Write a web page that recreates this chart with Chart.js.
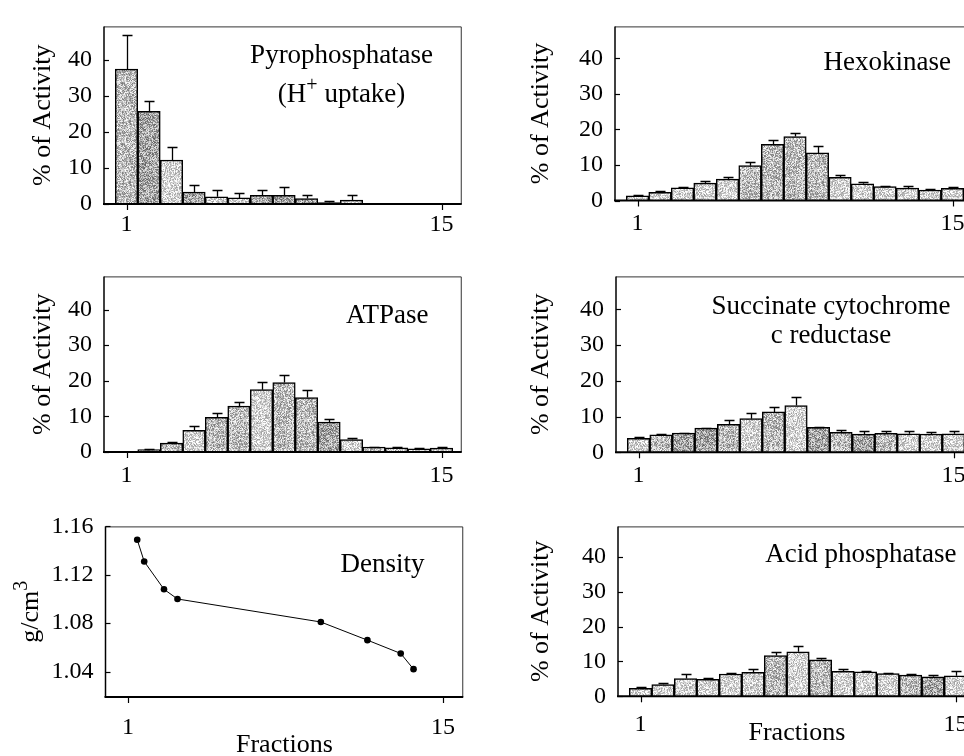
<!DOCTYPE html>
<html><head><meta charset="utf-8">
<script src="https://cdn.jsdelivr.net/npm/chart.js@4.4.0/dist/chart.umd.min.js"></script>
<style>
html,body{margin:0;padding:0;background:#fff;overflow:hidden;width:964px;height:756px;position:relative;}
canvas{position:absolute;}
</style></head><body>
<canvas id="pyro"></canvas>
<canvas id="hexo"></canvas>
<canvas id="atp"></canvas>
<canvas id="succ"></canvas>
<canvas id="dens"></canvas>
<canvas id="acid"></canvas>
<script>
// ---------------- DATA ----------------
const fractions = [1,2,3,4,5,6,7,8,9,10,11,12,13,14,15];
const fractionTicks = [1, 15];
const activityTicks = [0, 10, 20, 30, 40];
const densityTicks = [1.04, 1.08, 1.12, 1.16];

const pyroValues = [37.5, 25.8, 12.2, 3.3, 2.0, 1.7, 2.4, 2.4, 1.5, 0.4, 1.1, 0.15, 0.15, 0.15, null];
const pyroErrors = [9.5, 2.8, 3.6, 1.9, 1.8, 1.4, 1.5, 2.3, 1.0, 0.4, 1.3, 0, 0, 0, null];

const hexoValues = [1.3, 2.3, 3.6, 4.9, 6.0, 9.8, 15.8, 18.0, 13.4, 6.5, 4.7, 3.9, 3.5, 2.9, 3.4];
const hexoErrors = [0.3, 0.3, 0.2, 0.6, 0.6, 0.9, 1.3, 1.1, 2.0, 0.6, 0.4, 0.3, 0.5, 0.4, 0.5];

const atpValues = [0.2, 0.7, 2.5, 6.1, 9.7, 12.9, 17.5, 19.5, 15.3, 8.4, 3.5, 1.4, 1.2, 0.9, 1.1];
const atpErrors = [0, 0.2, 0.3, 1.2, 1.3, 1.1, 2.1, 2.1, 2.2, 0.8, 0.3, 0.1, 0.1, 0.1, 0.3];

const succValues = [3.9, 4.9, 5.4, 6.8, 7.8, 9.4, 11.3, 13.1, 7.0, 5.6, 5.1, 5.3, 5.2, 5.1, 5.2];
const succErrors = [0.3, 0.2, 0.1, 0.1, 1.1, 1.7, 1.3, 2.3, 0.2, 0.7, 0.8, 0.7, 0.7, 0.7, 0.8];

const acidValues = [2.3, 3.4, 5.1, 4.9, 6.4, 6.9, 11.7, 12.8, 10.5, 7.2, 7.0, 6.5, 6.1, 5.6, 5.9];
const acidErrors = [0.5, 0.5, 1.3, 0.4, 0.2, 1.0, 1.1, 1.7, 0.4, 0.6, 0.2, 0.3, 0.2, 0.5, 1.3];

const densityFractions = [1.41, 1.72, 2.60, 3.20, 9.57, 11.64, 13.12, 13.69];
const densityValues = [1.149, 1.131, 1.108, 1.100, 1.081, 1.066, 1.055, 1.042];

// ---------------- STYLE ----------------
// stipple tone per bar (L light, M medium, D dark)
const pyroShade = "MDLDLLDDDDLLLLL";
const hexoShade = "LLLLLMMMMLLLLLL";
const atpShade  = "LLMLMMLMMDLMMLL";
const succShade = "LMDDMLMLDMDMLLL";
const acidShade = "LLLLLLMLMLLLMDL";

const FONT = '"Liberation Serif", "Times New Roman", serif';

function hash(x, y, s) {
  let n = Math.imul(x, 374761393) + Math.imul(y, 668265263) + Math.imul(s, 2246822519);
  n = Math.imul(n ^ (n >>> 13), 1274126177);
  n = n ^ (n >>> 16);
  return (n >>> 0) / 4294967296;
}
function makePattern(base, spread, seed) {
  const c = document.createElement('canvas');
  c.width = 61; c.height = 61;
  const g = c.getContext('2d');
  const img = g.createImageData(61, 61);
  for (let y = 0; y < 61; y++) for (let x = 0; x < 61; x++) {
    const h = hash(x, y, seed);
    let v = base + (h - 0.5) * spread;
    v = Math.max(60, Math.min(255, v));
    const i = (y * 61 + x) * 4;
    img.data[i] = img.data[i+1] = img.data[i+2] = v; img.data[i+3] = 255;
  }
  g.putImageData(img, 0, 0);
  return g.createPattern(c, 'repeat');
}
const patterns = {
  L: makePattern(212, 110, 1),
  M: makePattern(188, 130, 2),
  D: makePattern(165, 140, 3)
};

// ---------------- PLUGINS ----------------
const framePlugin = {
  id: 'frame',
  afterDraw(chart) {
    const {ctx, chartArea: a, scales: {x, y}} = chart;
    ctx.save();
    ctx.strokeStyle = '#333'; ctx.lineWidth = 1;
    ctx.beginPath();
    ctx.moveTo(a.left, a.top + 0.5); ctx.lineTo(a.right - 0.5, a.top + 0.5); ctx.lineTo(a.right - 0.5, a.bottom);
    ctx.stroke();
    ctx.strokeStyle = '#000'; ctx.lineWidth = 1.5;
    ctx.beginPath(); ctx.moveTo(a.left, a.top); ctx.lineTo(a.left, a.bottom); ctx.stroke();
    ctx.lineWidth = 2;
    ctx.beginPath(); ctx.moveTo(a.left - 1, a.bottom); ctx.lineTo(a.right, a.bottom); ctx.stroke();
    ctx.lineWidth = 1.2;
    y.ticks.forEach(t => {
      const py = Math.round(y.getPixelForValue(t.value)) + 0.5;
      ctx.beginPath(); ctx.moveTo(a.left, py); ctx.lineTo(a.left + 5, py); ctx.stroke();
    });
    x.ticks.forEach(t => {
      const px = Math.round(x.getPixelForValue(t.value)) + 0.5;
      ctx.beginPath(); ctx.moveTo(px, a.bottom); ctx.lineTo(px, a.bottom + 6); ctx.stroke();
    });
    ctx.restore();
  }
};
const errPlugin = {
  id: 'errbars',
  afterDatasetsDraw(chart) {
    const {ctx, scales: {x, y}} = chart;
    ctx.save();
    ctx.strokeStyle = '#000'; ctx.lineWidth = 1.3;
    chart.data.datasets.forEach(ds => {
      if (!ds.errorUp) return;
      ds.data.forEach((p, i) => {
        const e = ds.errorUp[i];
        if (p.y == null || !e) return;
        const px = Math.round(x.getPixelForValue(p.x)) + 0.5;
        const y0 = y.getPixelForValue(p.y), y1 = Math.round(y.getPixelForValue(p.y + e)) + 0.5;
        ctx.beginPath();
        ctx.moveTo(px, y0); ctx.lineTo(px, y1);
        ctx.moveTo(px - 5, y1); ctx.lineTo(px + 5, y1);
        ctx.stroke();
      });
    });
    ctx.restore();
  }
};
function drawSegs(ctx, segs, cx, y, o) {
  let total = 0;
  const ws = segs.map(s => {
    ctx.font = (s.sup ? o.supSize : o.size) + 'px ' + FONT;
    const w = ctx.measureText(s.t).width; total += w; return w;
  });
  let xx = cx - total / 2;
  segs.forEach((s, j) => {
    ctx.font = (s.sup ? o.supSize : o.size) + 'px ' + FONT;
    ctx.fillText(s.t, xx, s.sup ? y - o.supRise : y);
    xx += ws[j];
  });
}
const titlePlugin = {
  id: 'panelTitle',
  afterDraw(chart, args, o) {
    if (!o || !o.lines) return;
    const {ctx, chartArea: a} = chart;
    ctx.save();
    ctx.fillStyle = '#000';
    ctx.textBaseline = 'alphabetic';
    ctx.textAlign = 'left';
    o.lines.forEach((line, i) => {
      const segs = Array.isArray(line) ? line : [{t: line}];
      drawSegs(ctx, segs, a.left + o.cx, a.top + o.baselines[i], o);
    });
    if (o.ylabel) {
      const yl = o.ylabel;
      ctx.translate(yl.x, (a.top + a.bottom) / 2);
      ctx.rotate(-Math.PI / 2);
      ctx.textBaseline = 'middle';
      drawSegs(ctx, yl.segs, 0, 0, yl);
    }
    ctx.restore();
  }
};

// ---------------- CHART FACTORY ----------------
function build(id, L, spec) {
  const cv = document.getElementById(id);
  cv.width = L.w; cv.height = L.h;
  cv.style.left = L.left + 'px'; cv.style.top = L.top + 'px';
  cv.style.width = L.w + 'px'; cv.style.height = L.h + 'px';
  const isBar = spec.kind === 'bar';
  const datasets = isBar ? [{
    data: fractions.map((f, i) => ({x: f, y: spec.values[i]})),
    errorUp: spec.errors,
    backgroundColor: c => patterns[spec.shade[c.dataIndex]] || patterns.L,
    borderColor: '#000',
    borderWidth: 1.5,
    barPercentage: 1,
    categoryPercentage: 1
  }] : [{
    data: spec.xs.map((f, i) => ({x: f, y: spec.values[i]})),
    showLine: true,
    borderColor: '#000',
    borderWidth: 1,
    pointRadius: 3.3,
    pointBackgroundColor: '#000',
    pointBorderWidth: 0,
    fill: false
  }];
  return new Chart(cv, {
    type: isBar ? 'bar' : 'scatter',
    data: {datasets},
    plugins: [errPlugin, framePlugin, titlePlugin],
    options: {
      responsive: false,
      animation: false,
      events: [],
      devicePixelRatio: 1,
      layout: {autoPadding: false, padding: {top: L.pt, right: L.pr, left: 0, bottom: 0}},
      plugins: {
        legend: {display: false},
        tooltip: {enabled: false},
        panelTitle: spec.title
      },
      scales: {
        x: {
          type: 'linear', min: 0, max: 15.9, offset: false,
          grid: {display: false, drawTicks: false},
          border: {display: false},
          afterBuildTicks: s => { s.ticks = fractionTicks.map(v => ({value: v})); },
          afterFit: s => { s.height = L.xh; },
          ticks: {font: {family: FONT, size: 24}, color: '#000', padding: L.xpad, maxRotation: 0, autoSkip: false},
          title: L.xtitle ? {display: true, text: 'Fractions', color: '#000',
            font: {family: FONT, size: 26, lineHeight: 1}, padding: {top: 0, bottom: L.xtpad}} : {display: false}
        },
        y: {
          type: 'linear', min: spec.ymin, max: spec.ymax,
          grid: {display: false, drawTicks: false},
          border: {display: false},
          afterBuildTicks: s => { s.ticks = spec.yticks.map(v => ({value: v})); },
          afterFit: s => { s.width = L.yw; },
          ticks: {font: {family: FONT, size: 24}, color: '#000', padding: 12,
            callback: v => spec.kind === 'bar' ? String(v) : v.toFixed(2)},
          title: spec.ytitle ? {display: true, text: spec.ytitle, color: '#000',
            font: {family: FONT, size: 26, lineHeight: 1}, padding: {top: L.ytpad, bottom: 0}} : {display: false}
        }
      }
    }
  });
}

const AREA_W = 357.75;
function lay(left, top, w, h, yw, pt, xh, extra) {
  return Object.assign({left, top, w, h, yw, pt, xh, pr: w - yw - AREA_W}, extra);
}

build('pyro', lay(0, 0, 480, 250, 104, 16, 46, {xpad: 6, ytpad: 30}), {
  kind: 'bar', values: pyroValues, errors: pyroErrors, shade: pyroShade,
  ymin: 0, ymax: 49.4, yticks: activityTicks, ytitle: '% of Activity',
  title: {lines: ['Pyrophosphatase', [{t: '(H'}, {t: '+', sup: true}, {t: ' uptake)'}]],
    cx: 237.6, baselines: [36.7, 75.7], size: 27, supSize: 20, supRise: 11}
});
build('hexo', lay(510, 0, 480, 250, 105, 13, 49.5, {xpad: 9, ytpad: 18}), {
  kind: 'bar', values: hexoValues, errors: hexoErrors, shade: hexoShade,
  ymin: 0, ymax: 49.0, yticks: activityTicks, ytitle: '% of Activity',
  title: {lines: ['Hexokinase'], cx: 272.3, baselines: [44], size: 27}
});
build('atp', lay(0, 250, 480, 250, 104, 15.5, 48, {xpad: 9, ytpad: 30}), {
  kind: 'bar', values: atpValues, errors: atpErrors, shade: atpShade,
  ymin: 0, ymax: 49.3, yticks: activityTicks, ytitle: '% of Activity',
  title: {lines: ['ATPase'], cx: 283.2, baselines: [47], size: 27}
});
build('succ', lay(510, 250, 480, 250, 106, 15.5, 47.7, {xpad: 9, ytpad: 18}), {
  kind: 'bar', values: succValues, errors: succErrors, shade: succShade,
  ymin: 0, ymax: 49.2, yticks: activityTicks, ytitle: '% of Activity',
  title: {lines: ['Succinate cytochrome', 'c reductase'], cx: 215, baselines: [37.4, 66.4], size: 27}
});
build('dens', lay(0, 500, 480, 262, 105.5, 7, 65, {xpad: 16, xtitle: true, xtpad: 4}), {
  kind: 'line', xs: densityFractions, values: densityValues,
  ymin: 1.019, ymax: 1.16, yticks: densityTicks, ytitle: null,
  title: {lines: ['Density'], cx: 277, baselines: [45.7], size: 27,
    ylabel: {x: 31, segs: [{t: 'g/cm'}, {t: '3', sup: true}], size: 26, supSize: 20, supRise: 9}}
});
build('acid', lay(510, 500, 480, 262, 108, 7.3, 65.7, {xpad: 14, ytpad: 18, xtitle: true, xtpad: 16}), {
  kind: 'bar', values: acidValues, errors: acidErrors, shade: acidShade,
  ymin: 0, ymax: 48.8, yticks: activityTicks, ytitle: '% of Activity',
  title: {lines: ['Acid phosphatase'], cx: 242.8, baselines: [35.4], size: 27}
});
</script>
</body></html>
